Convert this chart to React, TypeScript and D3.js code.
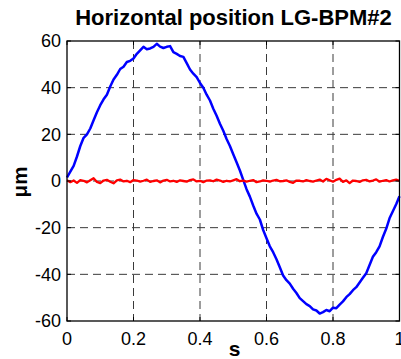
import React from "react";
import * as d3 from "d3";

const title = "Horizontal position LG-BPM#2";
const xLabel = "s";
const yLabel = "μm";
const xTicks = [0, 0.2, 0.4, 0.6, 0.8, 1];
const xTickLabels = ["0", "0.2", "0.4", "0.6", "0.8", "1"];
const yTicks = [-60, -40, -20, 0, 20, 40, 60];
const yTickLabels = ["-60", "-40", "-20", "0", "20", "40", "60"];

// blue trace, sampled every 0.01 s from 0 to 1
const blueValues = [
  1.5, 4, 6.5, 10.5, 15, 18.5, 20, 22.5, 26, 29.5,
  32.5, 35, 37, 40.5, 43.5, 45.5, 48, 49, 51, 51.5,
  52.5, 54.5, 56, 57.5, 56.5, 56.8, 57.5, 58.8, 57.6, 57,
  57.5, 57.8, 55.2, 54.5, 53.6, 53.2, 50.5, 47.8, 46, 44.5,
  42, 40, 37, 34.5, 31, 28, 24.5, 21.5, 18, 15,
  11.5, 8, 4.5, 0.5, -3.5, -6.7, -10.5, -14, -16.5, -21,
  -24.5, -28, -30.5, -33.5, -37, -40.5, -42.5, -44, -46.2, -48,
  -50.2, -51.5, -52.8, -53.6, -55, -55.5, -56.8, -56.2, -55.3, -55.8,
  -54.3, -54.5, -53, -51.6, -49.8, -48.5, -46.8, -45.5, -43.5, -41.5,
  -39.5, -36, -32.5, -30.5, -28, -24, -20.5, -16, -13, -10,
  -6.5,
];

// red trace, sampled every 0.01 s from 0 to 1
const redValues = [
  0.3, -0.5, 0.2, -0.8, 0.4, 0.1, -0.6, 0.3, 1.2, -0.4,
  -0.9, 0.2, 0.5, -0.3, -1.0, 0.3, 0.6, -0.2, 0.1, -0.5,
  0.4, 0.2, -0.3, 0.1, 0.6, -0.4, 0.0, 0.3, -0.6, 0.2,
  0.5, -0.2, 0.1, -0.4, 0.3, 0.0, -0.3, 0.4, 0.7, -0.2,
  0.1, -0.5, 0.2, 0.3, -0.1, 0.6, 0.2, -0.4, 0.1, -0.2,
  0.3, 0.8, -0.1, 0.2, -0.3, 0.1, 0.4, -0.5, -0.2, 0.3,
  0.1, -0.3, 0.2, 0.5, -0.1, 0.0, 0.3, -0.4, -0.8, 0.2,
  0.1, -0.2, 0.4, 0.0, -0.3, 0.2, 0.6, -0.2, 0.9, 0.3,
  -0.3, 0.5, 1.0, -0.4, 0.3, -0.9, 0.2, 0.0, -0.4, 0.3,
  0.5, -0.2, 0.2, 0.7, -0.3, 0.1, 0.4, -0.2, 0.3, 0.6,
  0.1,
];

const W = 401;
const H = 359;
const L = 67;
const R = 399.5;
const T = 41;
const B = 321;

export default function App() {
  const x = d3.scaleLinear().domain([0, 1]).range([L, R]);
  const y = d3.scaleLinear().domain([-60, 60]).range([B, T]);
  const line = d3
    .line<number>()
    .x((_, i, arr) => x(i / ((arr as number[]).length - 1)))
    .y((d) => y(d));

  const font = "'Liberation Sans', Arial, Helvetica, sans-serif";
  const tickLen = 4;
  const gridColor = "#3a3a3a";

  return (
    <svg
      width={W}
      height={H}
      style={{ position: "absolute", left: 0, top: 0, background: "#fff" }}
      fontFamily={font}
    >
      <rect x={0} y={0} width={W} height={H} fill="#fff" />
      {/* grid */}
      {xTicks
        .filter((t) => t > 0 && t < 1)
        .map((t) => (
          <line
            key={"gx" + t}
            x1={x(t)}
            x2={x(t)}
            y1={T}
            y2={B}
            stroke={gridColor}
            strokeWidth={1}
            strokeDasharray="8,5"
          />
        ))}
      {yTicks
        .filter((t) => t > -60 && t < 60)
        .map((t) => (
          <line
            key={"gy" + t}
            x1={L}
            x2={R}
            y1={y(t)}
            y2={y(t)}
            stroke={gridColor}
            strokeWidth={1}
            strokeDasharray="8,5"
          />
        ))}
      {/* data */}
      <path d={line(blueValues) || ""} fill="none" stroke="#0000ff" strokeWidth={2.5} strokeLinejoin="round" />
      <path d={line(redValues) || ""} fill="none" stroke="#ff0000" strokeWidth={2.3} strokeLinejoin="round" />
      {/* box */}
      <rect x={L} y={T} width={R - L} height={B - T} fill="none" stroke="#000" strokeWidth={1.3} />
      {/* ticks */}
      {xTicks.map((t) => (
        <g key={"tx" + t}>
          <line x1={x(t)} x2={x(t)} y1={B} y2={B - tickLen} stroke="#000" />
          <line x1={x(t)} x2={x(t)} y1={T} y2={T + tickLen} stroke="#000" />
        </g>
      ))}
      {yTicks.map((t) => (
        <g key={"ty" + t}>
          <line x1={L} x2={L + tickLen} y1={y(t)} y2={y(t)} stroke="#000" />
          <line x1={R} x2={R - tickLen} y1={y(t)} y2={y(t)} stroke="#000" />
        </g>
      ))}
      {/* tick labels */}
      {xTicks.map((t, i) => (
        <text key={"lx" + t} x={x(t)} y={345} textAnchor="middle" fontSize={18} fill="#000">
          {xTickLabels[i]}
        </text>
      ))}
      {yTicks.map((t, i) => (
        <text key={"ly" + t} x={61} y={y(t) + 6.4} textAnchor="end" fontSize={18} fill="#000">
          {yTickLabels[i]}
        </text>
      ))}
      {/* title and labels */}
      <text x={233.5} y={24.5} textAnchor="middle" fontSize={22} fontWeight="bold" fill="#000">
        {title}
      </text>
      <text x={234.5} y={356} textAnchor="middle" fontSize={21} fontWeight="bold" fill="#000">
        {xLabel}
      </text>
      <text
        transform={`translate(27,182) rotate(-90)`}
        textAnchor="middle"
        fontSize={20.5}
        fontWeight="bold"
        fill="#000"
      >
        {yLabel}
      </text>
    </svg>
  );
}
